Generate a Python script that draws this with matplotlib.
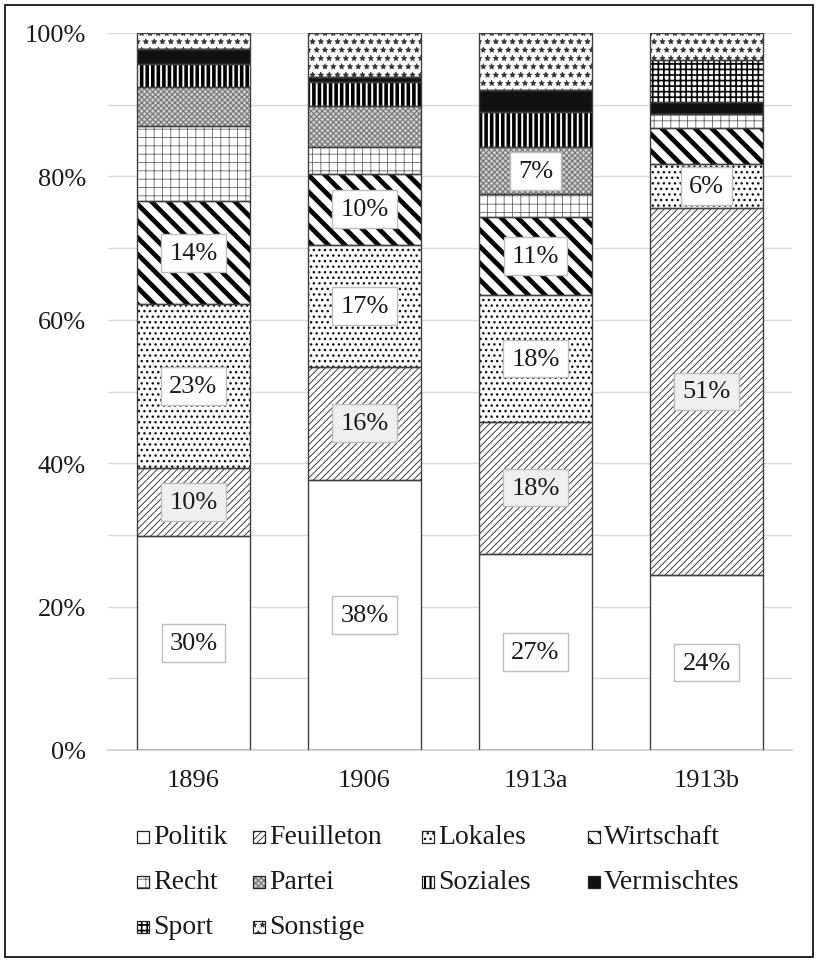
import matplotlib
matplotlib.use("Agg")
import matplotlib.pyplot as plt
from matplotlib.patches import Rectangle
import numpy as np

# ==========================================
# 1. DONNÉES (en %)
# ==========================================
jahre = ["1896", "1906", "1913a", "1913b"]

politik     = [29.8, 37.7, 27.4, 24.4]
feuilleton  = [9.6, 15.7, 18.4, 51.2]
lokales     = [22.8, 17.1, 17.6, 6.1]
wirtschaft  = [14.3, 9.9, 11.0, 5.1]
recht       = [10.5, 3.7, 3.1, 1.9]
partei      = [5.4, 5.7, 6.6, 0.0]
soziales    = [3.3, 3.3, 4.9, 0.0]
vermischtes = [2.1, 0.7, 3.0, 1.7]
sport       = [0.0, 0.0, 0.0, 5.8]
sonstige    = [2.2, 6.2, 8.0, 3.8]

rubriken = ["Politik", "Feuilleton", "Lokales", "Wirtschaft", "Recht",
            "Partei", "Soziales", "Vermischtes", "Sport", "Sonstige"]
werte = [politik, feuilleton, lokales, wirtschaft, recht,
         partei, soziales, vermischtes, sport, sonstige]

# quelles étiquettes sont affichées (rubrique -> indices des barres)
etiquettes = {"Politik": [0, 1, 2, 3], "Feuilleton": [0, 1, 2, 3],
              "Lokales": [0, 1, 2, 3], "Wirtschaft": [0, 1, 2],
              "Partei": [2]}

# style : (couleur de fond, hachure, couleur hachure, épaisseur hachure)
styles = {
    "Politik":     ("white", None, "black", 1.0),
    "Feuilleton":  ("white", "/////", "#222222", 0.6),
    "Lokales":     ("white", "...", "#111111", 1.0),
    "Wirtschaft":  ("white", "\\\\", "black", 3.4),
    "Recht":       ("white", "++", "#666666", 0.6),
    "Partei":      ("#cfcfcf", "xxxxxx", "#777777", 0.8),
    "Soziales":    ("white", "|||", "black", 2.6),
    "Vermischtes": ("#111111", None, "#111111", 1.0),
    "Sport":       ("white", "+++", "black", 1.2),
    "Sonstige":    ("white", "**", "#333333", 0.4),
}

plt.rcParams['font.family'] = ['Liberation Serif', 'DejaVu Serif']
plt.rcParams['text.color'] = '#1a1a1a'

W, H = 819, 962
fig = plt.figure(figsize=(W / 100, H / 100), dpi=100)
ax = fig.add_axes([108/W, 211/H, 684/W, 717/H])

x = np.arange(len(jahre))
largeur = 0.665
bas = np.zeros(len(jahre))

for nom, vals in zip(rubriken, werte):
    vals = np.array(vals)
    fond, hachure, coul_h, lw_h = styles[nom]
    with plt.rc_context({'hatch.linewidth': lw_h}):
        barres = ax.bar(x, vals, largeur, bottom=bas, color=fond,
                        hatch=hachure, edgecolor=coul_h, linewidth=0, zorder=2)
        for b in barres:
            if hasattr(b, "set_hatch_linewidth"):
                b.set_hatch_linewidth(lw_h)
    # contour gris foncé
    ax.bar(x, vals, largeur, bottom=bas, fill=False,
           edgecolor="#404040", linewidth=1.0, zorder=3)

    # étiquettes de valeur
    for i in etiquettes.get(nom, []):
        fond_box = "#efefef" if nom == "Feuilleton" else "white"
        ax.text(x[i], bas[i] + vals[i] / 2, f"{vals[i]:.0f}%",
                ha="center", va="center", fontsize=19, zorder=5,
                bbox=dict(boxstyle="square,pad=0.3", facecolor=fond_box,
                          edgecolor="#bdbdbd", linewidth=1.0))
    bas += vals

# ==========================================
# 2. AXES
# ==========================================
ax.set_xlim(-0.5, 3.5)
ax.set_ylim(0, 100)
ax.set_yticks(np.arange(0, 101, 20))
ax.set_yticklabels([f"{v}%" for v in range(0, 101, 20)])
ax.set_yticks(np.arange(10, 100, 20), minor=True)
ax.grid(True, axis="y", which="both", color="#d9d9d9", linewidth=1.0, zorder=0)
ax.set_axisbelow(True)
ax.set_xticks(x)
ax.set_xticklabels(jahre)
ax.tick_params(axis="both", which="both", length=0, labelsize=19, colors="#1a1a1a")
ax.tick_params(axis="y", pad=16)
ax.tick_params(axis="x", pad=14)
for s in ["left", "right", "top"]:
    ax.spines[s].set_visible(False)
ax.spines["bottom"].set_color("#d0d0d0")
ax.spines["bottom"].set_linewidth(1.2)

# ==========================================
# 3. LÉGENDE (placée à la main, 4 colonnes) ET CADRE
# ==========================================
col_x = [137, 253, 422, 588]
lig_y = [838, 883, 928]
cote = 12
for k, nom in enumerate(rubriken):
    lig, col = divmod(k, 4)
    px, py = col_x[col], lig_y[lig]
    fond, hachure, coul_h, lw_h = styles[nom]
    with plt.rc_context({'hatch.linewidth': min(lw_h, 1.5)}):
        r = Rectangle((px / W, 1 - (py + cote / 2) / H), cote / W, cote / H,
                      transform=fig.transFigure, facecolor=fond,
                      hatch=hachure, edgecolor=coul_h, linewidth=0)
    fig.patches.append(r)
    fig.patches.append(Rectangle((px / W, 1 - (py + cote / 2) / H), cote / W, cote / H,
                                 transform=fig.transFigure, fill=False,
                                 edgecolor="#222222", linewidth=0.9))
    fig.text((px + cote + 4) / W, 1 - py / H, nom, ha="left", va="center",
             fontsize=20)

fig.patches.append(Rectangle((5/W, 4/H), 808/W, 952/H,
                             transform=fig.transFigure, fill=False,
                             edgecolor="black", linewidth=1.2))

plt.savefig("out.png", dpi=100)
